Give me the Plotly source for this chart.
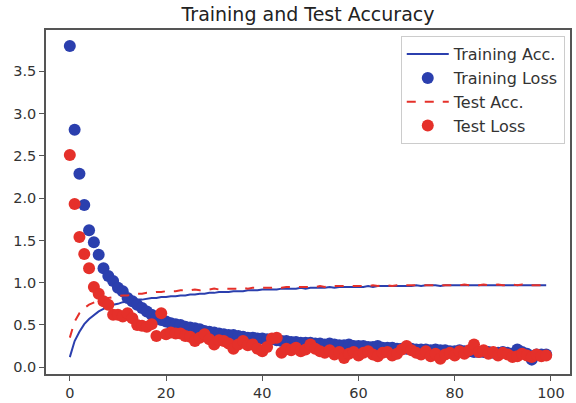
import plotly.graph_objects as go

epochs = list(range(100))

train_acc = [0.12, 0.31, 0.42, 0.51, 0.57, 0.62, 0.66, 0.69, 0.72, 0.74,
             0.75, 0.77, 0.78, 0.79, 0.80, 0.80, 0.81, 0.82, 0.82, 0.83,
             0.83, 0.84, 0.84, 0.85, 0.85, 0.86, 0.86, 0.87, 0.87, 0.88,
             0.88, 0.89, 0.89, 0.89, 0.90, 0.90, 0.90, 0.91, 0.91, 0.91,
             0.92, 0.92, 0.92, 0.92, 0.93, 0.93, 0.93, 0.93, 0.94, 0.93,
             0.94, 0.94, 0.94, 0.94, 0.95, 0.94, 0.95, 0.95, 0.95, 0.95,
             0.95, 0.95, 0.96, 0.95, 0.96, 0.96, 0.96, 0.96, 0.96, 0.96,
             0.96, 0.96, 0.97, 0.96, 0.97, 0.97, 0.97, 0.96, 0.97, 0.97,
             0.97, 0.97, 0.97, 0.97, 0.97, 0.97, 0.97, 0.97, 0.97, 0.97,
             0.97, 0.97, 0.97, 0.97, 0.97, 0.97, 0.97, 0.97, 0.97, 0.97]

train_loss = [3.80, 2.81, 2.29, 1.92, 1.62, 1.48, 1.33, 1.17, 1.08, 1.02,
              0.94, 0.90, 0.82, 0.78, 0.74, 0.70, 0.66, 0.62, 0.59, 0.56,
              0.54, 0.52, 0.51, 0.50, 0.48, 0.47, 0.46, 0.45, 0.43, 0.42,
              0.41, 0.40, 0.39, 0.38, 0.38, 0.37, 0.36, 0.35, 0.35, 0.34,
              0.34, 0.33, 0.33, 0.32, 0.31, 0.31, 0.30, 0.30, 0.29, 0.29,
              0.29, 0.28, 0.28, 0.27, 0.28, 0.27, 0.26, 0.26, 0.27, 0.25,
              0.25, 0.25, 0.24, 0.24, 0.25, 0.23, 0.23, 0.23, 0.22, 0.22,
              0.22, 0.22, 0.21, 0.21, 0.21, 0.20, 0.21, 0.20, 0.20, 0.19,
              0.19, 0.20, 0.19, 0.19, 0.18, 0.18, 0.18, 0.18, 0.17, 0.17,
              0.18, 0.17, 0.16, 0.21, 0.18, 0.16, 0.09, 0.15, 0.15, 0.15]

test_acc = [0.35, 0.54, 0.64, 0.70, 0.74, 0.77, 0.79, 0.81, 0.82, 0.83,
            0.84, 0.85, 0.85, 0.86, 0.87, 0.87, 0.88, 0.88, 0.89, 0.89,
            0.90, 0.90, 0.90, 0.91, 0.91, 0.91, 0.92, 0.91, 0.92, 0.92,
            0.93, 0.92, 0.93, 0.93, 0.93, 0.93, 0.94, 0.93, 0.94, 0.94,
            0.94, 0.94, 0.94, 0.95, 0.94, 0.95, 0.95, 0.95, 0.95, 0.95,
            0.95, 0.95, 0.96, 0.95, 0.96, 0.96, 0.96, 0.96, 0.96, 0.96,
            0.96, 0.96, 0.96, 0.97, 0.96, 0.97, 0.97, 0.96, 0.97, 0.97,
            0.97, 0.97, 0.97, 0.97, 0.97, 0.97, 0.97, 0.97, 0.97, 0.97,
            0.97, 0.97, 0.98, 0.97, 0.97, 0.97, 0.98, 0.97, 0.97, 0.98,
            0.97, 0.97, 0.98, 0.97, 0.98, 0.97, 0.97, 0.97, 0.97, 0.97]

test_loss = [2.51, 1.93, 1.54, 1.34, 1.17, 0.95, 0.87, 0.78, 0.74, 0.62,
             0.62, 0.60, 0.64, 0.58, 0.50, 0.49, 0.48, 0.51, 0.37, 0.64,
             0.39, 0.41, 0.40, 0.40, 0.37, 0.36, 0.31, 0.35, 0.39, 0.33,
             0.27, 0.32, 0.31, 0.28, 0.22, 0.27, 0.31, 0.26, 0.27, 0.22,
             0.19, 0.24, 0.34, 0.35, 0.17, 0.22, 0.20, 0.23, 0.19, 0.21,
             0.27, 0.22, 0.19, 0.17, 0.20, 0.15, 0.18, 0.11, 0.16, 0.18,
             0.14, 0.17, 0.19, 0.15, 0.13, 0.17, 0.18, 0.14, 0.16, 0.21,
             0.25, 0.20, 0.17, 0.15, 0.19, 0.13, 0.16, 0.10, 0.15, 0.17,
             0.14, 0.19, 0.16, 0.20, 0.27, 0.18, 0.20, 0.16, 0.18, 0.14,
             0.17, 0.15, 0.12, 0.13, 0.16, 0.14, 0.12, 0.15, 0.13, 0.14]

x_ticks = [0, 20, 40, 60, 80, 100]
y_ticks = [0.0, 0.5, 1.0, 1.5, 2.0, 2.5, 3.0, 3.5]

BLUE = "#2b3fae"
RED = "#e5302a"
FONT = "DejaVu Sans"

fig = go.Figure()
fig.add_trace(go.Scatter(x=epochs, y=train_acc, mode="lines", name="Training Acc.",
                         line=dict(color=BLUE, width=2), legendgroup="a"))
fig.add_trace(go.Scatter(x=epochs, y=train_loss, mode="markers", name="Training Loss",
                         marker=dict(color=BLUE, size=12), legendgroup="b"))
fig.add_trace(go.Scatter(x=epochs, y=test_acc, mode="lines", name="Test Acc.",
                         line=dict(color=RED, width=2, dash="dash"), legendgroup="c"))
fig.add_trace(go.Scatter(x=epochs, y=test_loss, mode="markers", name="Test Loss",
                         marker=dict(color=RED, size=12), legendgroup="d"))

axis_common = dict(showgrid=False, zeroline=False, showline=True, mirror=True,
                   linecolor="#555555", linewidth=1.5, ticks="outside", ticklen=5,
                   tickcolor="#555555", tickwidth=1.2, automargin=False,
                   tickfont=dict(family=FONT, size=14.5, color="#333333"))

fig.update_layout(
    width=576, height=403,
    margin=dict(l=46, r=6, t=30, b=29, autoexpand=False),
    paper_bgcolor="white", plot_bgcolor="white",
    title=dict(text="Training and Test Accuracy", xref="paper", x=0.5, xanchor="center",
               y=0.965, yanchor="middle",
               font=dict(family=FONT, size=19, color="#222222")),
    xaxis=dict(range=[-4.95, 103.95], tickvals=x_ticks,
               ticktext=[str(v) for v in x_ticks], **axis_common),
    yaxis=dict(range=[-0.08, 3.99], tickvals=y_ticks,
               ticktext=[f"{v:.1f}" for v in y_ticks], **axis_common),
    legend=dict(x=0.99, xanchor="right", y=0.982, yanchor="top",
                bordercolor="#cccccc", borderwidth=1, bgcolor="white",
                font=dict(family=FONT, size=16, color="#333333"),
                itemwidth=42,
                traceorder="grouped", tracegroupgap=0),
    showlegend=True,
)

fig.write_html("out.html", config={"displayModeBar": False},
               post_script="document.body.style.margin='0';")
